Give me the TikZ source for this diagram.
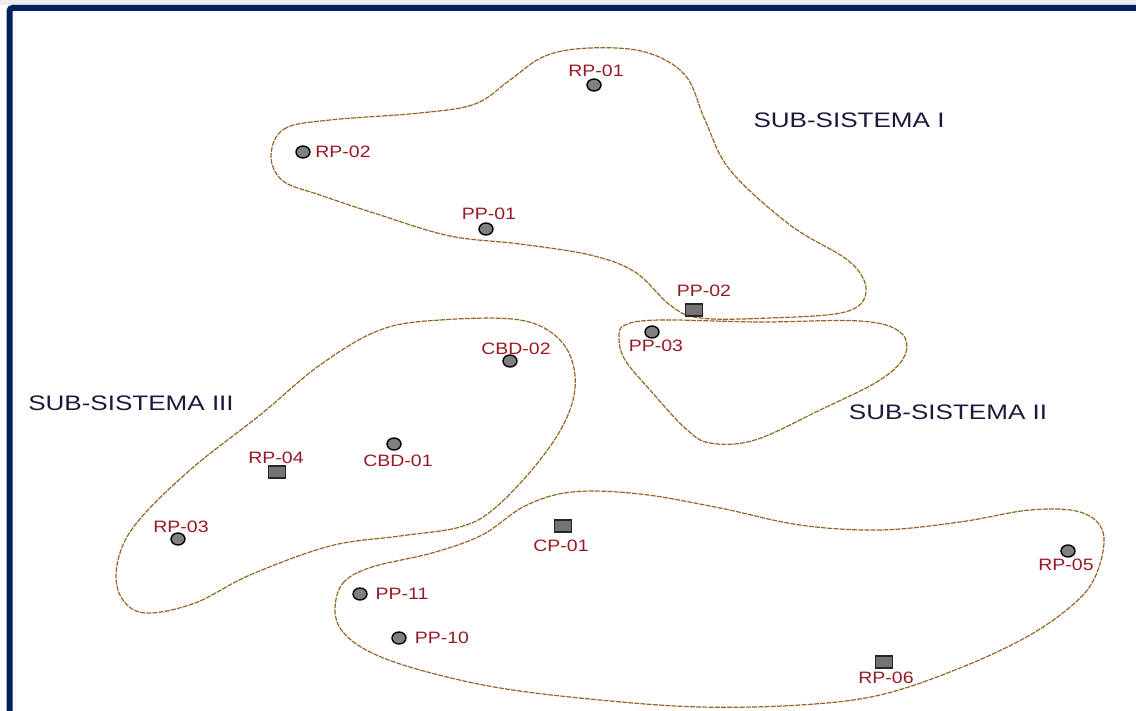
\documentclass[tikz,border=0pt]{standalone}
\usepackage{fontspec}
\setmainfont{Liberation Sans}[FakeStretch=1.18]
\newfontfamily\titlefont{Liberation Sans}[FakeStretch=1.24]
\usetikzlibrary{shapes.geometric}

\definecolor{frameblue}{RGB}{0,32,96}
\definecolor{zonebrown}{RGB}{150,100,35}
\definecolor{labelred}{RGB}{150,25,35}
\definecolor{titlenavy}{RGB}{25,25,60}
\definecolor{markgray}{RGB}{128,128,128}

\tikzset{
  zone/.style={draw=zonebrown, line width=1.2pt, dash pattern=on 5pt off 1.2pt},
  well/.style={ellipse, draw=black, fill=markgray, line width=1.4pt,
               inner sep=0pt, minimum width=14pt, minimum height=12pt},
  tank/.style={rectangle, draw=black!85, fill=markgray!90!black, line width=1.3pt,
               inner sep=0pt, minimum width=17pt, minimum height=12pt},
  lbl/.style={text=labelred, inner sep=1pt, font=\fontsize{16.5}{16.5}\selectfont},
  zonetitle/.style={text=titlenavy, inner sep=1pt, font=\titlefont\fontsize{21}{21}\selectfont}
}

\begin{document}
\begin{tikzpicture}[x=1pt,y=-1pt]

            \useasboundingbox (0,0) rectangle (1136,711);
            \fill[black!8] (0,0) rectangle (1136,5);
            \draw[frameblue, line width=6pt, rounded corners=3pt] (9.5,711) -- (9.5,8) -- (1136,8);

            % sub-sistema I
            \draw[zone] plot[smooth cycle, tension=0.6] coordinates {
                (271,156) (284,129) (330,120) (420,113) (475,104) (510,80) (545,56)
                (590,48) (645,52) (685,75) (705,120) (730,170) (790,225) (850,262)
                (866,292) (845,312) (770,318) (700,318) (670,305) (635,272) (590,255)
                (520,244) (450,236) (380,215) (320,195) (283,181)};

            % sub-sistema II
            \draw[zone] plot[smooth cycle, tension=0.6] coordinates {
                (625,325) (660,320) (760,322) (860,321) (900,332) (905,355) (880,380)
                (820,410) (755,440) (710,443) (685,428) (650,390) (625,360) (619,338)};

            % sub-sistema III
            \draw[zone] plot[smooth cycle, tension=0.6] coordinates {
                (380,330) (440,320) (520,320) (560,340) (575,375) (568,415) (540,460)
                (495,508) (460,527) (400,536) (330,546) (250,575) (195,603) (145,613)
                (121,597) (117,565) (135,525) (190,470) (260,415) (320,365)};

            % lower zone
            \draw[zone] plot[smooth cycle, tension=0.6] coordinates {
                (335,610) (343,583) (372,567) (432,553) (482,535) (525,506) (572,492)
                (640,494) (720,508) (800,525) (880,530) (960,522) (1030,510) (1080,512)
                (1103,532) (1098,570) (1078,600) (1030,635) (960,668) (880,695) (800,705)
                (700,707) (600,700) (500,688) (420,670) (370,652) (343,632)};

            \foreach \name/\x/\y in {rp01/594/85, rp02/303/152, pp01/486/229, pp03/652/332,
                                     cbd02/510/361, cbd01/394/444, rp03/178/539,
                                     pp11/360/594, pp10/399/638, rp05/1068/551} {
                \node[well] (\name) at (\x,\y) {};
            }
            \foreach \name/\x/\y in {pp02/694/310, rp04/277/472, cp01/563/526, rp06/884/662} {
                \node[tank] (\name) at (\x,\y) {};
            }

            \node[lbl] (rp01-l)  at (596,71)  {RP-01};
            \node[lbl] (rp02-l)  at (343,152) {RP-02};
            \node[lbl] (pp01-l)  at (489,214) {PP-01};
            \node[lbl] (pp02-l)  at (704,291) {PP-02};
            \node[lbl] (pp03-l)  at (656,346) {PP-03};
            \node[lbl] (cbd02-l) at (516,349) {CBD-02};
            \node[lbl] (cbd01-l) at (398,461) {CBD-01};
            \node[lbl] (rp04-l)  at (276,458) {RP-04};
            \node[lbl] (rp03-l)  at (181,527) {RP-03};
            \node[lbl] (cp01-l)  at (561,546) {CP-01};
            \node[lbl] (pp11-l)  at (402,594) {PP-11};
            \node[lbl] (pp10-l)  at (442,638) {PP-10};
            \node[lbl] (rp05-l)  at (1066,565) {RP-05};
            \node[lbl] (rp06-l)  at (886,678) {RP-06};

            \node[zonetitle] (sub1) at (849,120) {SUB-SISTEMA I};
            \node[zonetitle] (sub2) at (948,412) {SUB-SISTEMA II};
            \node[zonetitle] (sub3) at (131,403) {SUB-SISTEMA III};
        \end{tikzpicture}
\end{document}
